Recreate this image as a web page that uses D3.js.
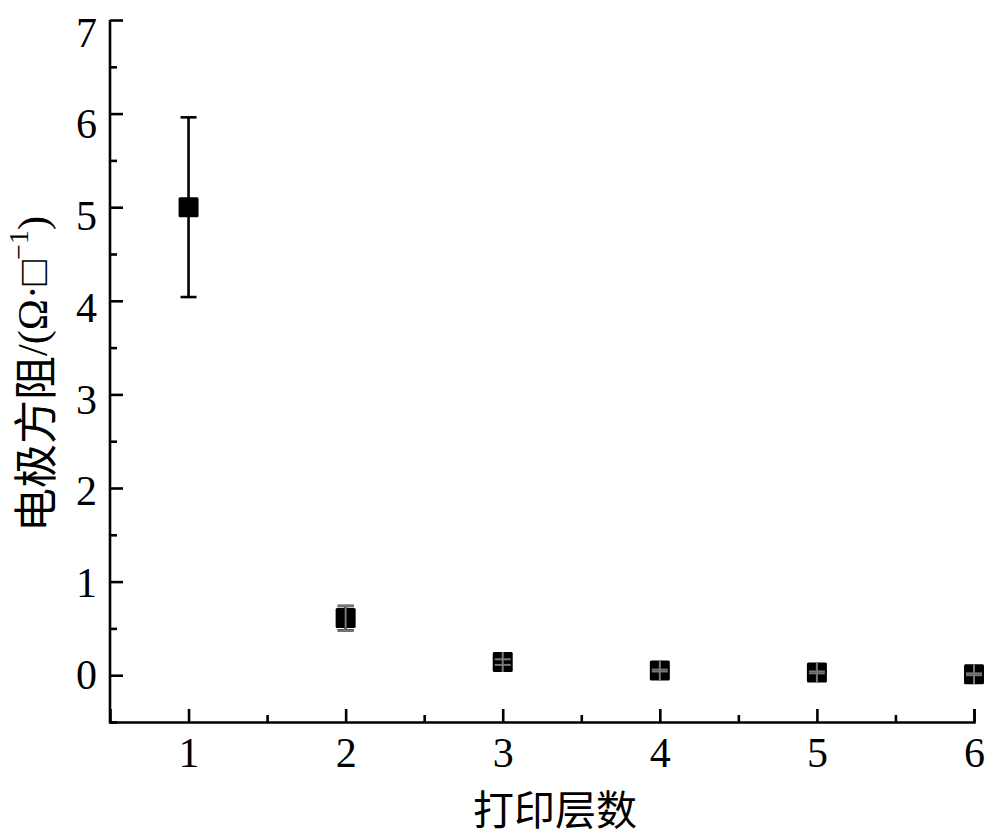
<!DOCTYPE html>
<html><head><meta charset="utf-8">
<script src="https://cdn.jsdelivr.net/npm/d3@7"></script>
<style>body{margin:0;background:#fff}</style>
</head><body>
<svg id="c" width="1000" height="837"></svg>
<script>
const layers = [1, 2, 3, 4, 5, 6];
const resistance = [5.0, 0.61, 0.14, 0.05, 0.03, 0.01];
const errors = [0.96, 0.13, 0.03, 0.01, 0.01, 0.01];
const xTicks = [1, 2, 3, 4, 5, 6];
const yTicks = [0, 1, 2, 3, 4, 5, 6, 7];
const xLabel = "打印层数";

const svg = d3.select("#c");
const x = d3.scaleLinear().domain([0.5, 6]).range([110, 974]);
const y = d3.scaleLinear().domain([-0.5, 7]).range([722, 20]);
// tick labels in the reference sit on a slightly compressed grid
const yLab = d3.scaleLinear().domain([0, 7]).range([674, 32]);
const serif = "'Liberation Serif','Times New Roman',serif";
const cjk = "'Noto Sans CJK SC','Liberation Serif',serif";

const gx = svg.append("g").attr("transform", `translate(0,${y(-0.5)})`)
  .call(d3.axisBottom(x).tickValues(xTicks).tickSize(-13).tickPadding(0).tickFormat(d3.format("d")));
const gxm = svg.append("g").attr("transform", `translate(0,${y(-0.5)})`)
  .call(d3.axisBottom(x).tickValues([1.5,2.5,3.5,4.5,5.5]).tickSize(-7).tickFormat(""));
const gy = svg.append("g").attr("transform", `translate(${x(0.5)},0)`)
  .call(d3.axisLeft(y).tickValues(yTicks).tickSize(-13).tickFormat(""));
const gym = svg.append("g").attr("transform", `translate(${x(0.5)},0)`)
  .call(d3.axisLeft(y).tickValues([-0.5,0.5,1.5,2.5,3.5,4.5,5.5,6.5]).tickSize(-7).tickFormat(""));
[gx, gxm, gy, gym].forEach(g => {
  g.select(".domain").attr("stroke", "#000").attr("stroke-width", 2.6);
  g.selectAll(".tick line").attr("stroke", "#000").attr("stroke-width", 2.6);
});
gx.selectAll(".tick text").attr("font-family", serif).attr("font-size", 42).attr("fill", "#000")
  .attr("dy", null).attr("y", 45);
gxm.select(".domain").remove();
gym.select(".domain").remove();
gy.select(".domain").attr("d", `M0,${y(-0.5)+1.3}V${y(7)}`);

svg.append("g").selectAll("text").data(yTicks).join("text")
  .attr("x", 97).attr("y", d => yLab(d)).attr("dy", "0.35em")
  .attr("text-anchor", "end").attr("font-family", serif).attr("font-size", 42).attr("fill", "#000")
  .text(d => d);

const data = layers.map((l, i) => ({l, v: resistance[i], e: errors[i]}));
function bars(g, list, cap, minHalf) {
  list.forEach(d => {
    const h = Math.max(y(d.v - d.e) - y(d.v), minHalf);
    g.append("line").attr("x1", x(d.l)).attr("x2", x(d.l)).attr("y1", y(d.v) + h).attr("y2", y(d.v) - h);
    g.append("line").attr("x1", x(d.l)-cap).attr("x2", x(d.l)+cap).attr("y1", y(d.v + d.e)).attr("y2", y(d.v + d.e));
    g.append("line").attr("x1", x(d.l)-cap).attr("x2", x(d.l)+cap).attr("y1", y(d.v - d.e)).attr("y2", y(d.v - d.e));
  });
}
bars(svg.append("g").attr("stroke", "#000").attr("stroke-width", 2.6), data, 8, 0);
const ms = 20;
svg.append("g").selectAll("rect").data(data).join("rect")
  .attr("x", d => x(d.l) - ms/2).attr("y", d => y(d.v) - ms/2)
  .attr("width", ms).attr("height", ms).attr("rx", 1.5).attr("fill", "#000");
bars(svg.append("g").attr("stroke", "#777").attr("stroke-width", 2), data.filter(d => d.e < 0.5), 8, 10);

svg.append("text").attr("x", 555).attr("y", 807).attr("dominant-baseline", "central")
  .attr("text-anchor", "middle").attr("font-family", cjk).attr("font-size", 41).attr("fill", "#000").text(xLabel);

const yt = svg.append("text").attr("transform", "translate(33,374) rotate(-90)")
  .attr("text-anchor", "middle").attr("dominant-baseline", "central").attr("font-size", 44).attr("fill", "#000");
yt.append("tspan").attr("font-family", cjk).text("电极方阻");
yt.append("tspan").attr("font-family", serif).attr("font-size", 42).text("/(Ω·□");
yt.append("tspan").attr("font-family", serif).attr("font-size", 28).attr("dy", -15).text("−1");
yt.append("tspan").attr("font-family", serif).attr("font-size", 42).attr("dy", 15).text(")");
</script>
</body></html>
